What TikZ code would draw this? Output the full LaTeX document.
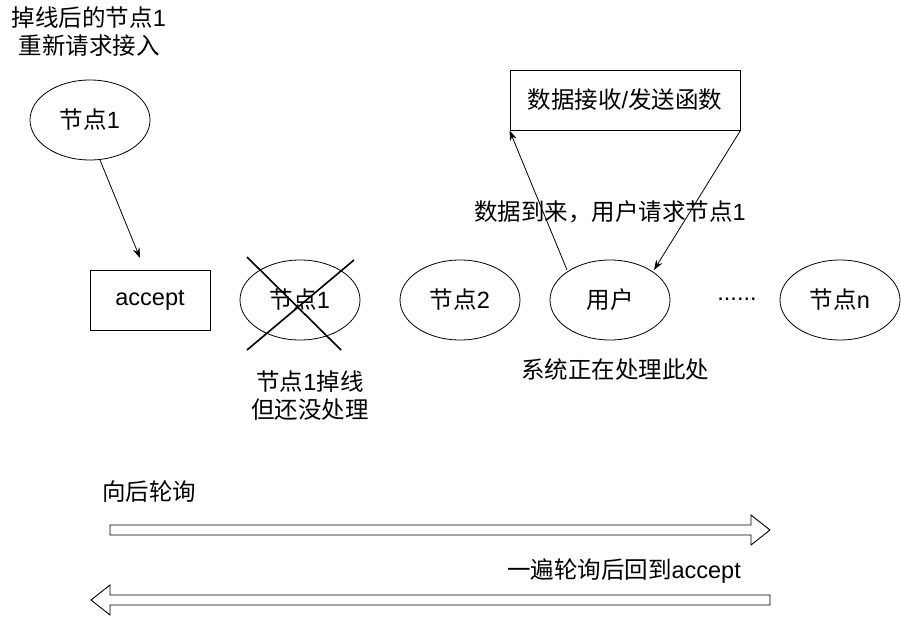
\documentclass[tikz,border=0pt]{standalone}
\usepackage{fontspec}
\setmainfont{Liberation Sans}
\newfontfamily\cjk{Noto Sans CJK SC}
\usetikzlibrary{shapes.geometric,arrows.meta}
\newcommand{\zh}[1]{{\cjk #1}}
\tikzset{
  ell/.style={draw, ellipse, line width=0.8pt, minimum width=120pt, minimum height=80pt, inner sep=0pt},
  boxnode/.style={draw, rectangle, line width=0.9pt, inner sep=0pt},
  lbl/.style={inner sep=0pt, align=center},
  conn/.style={line width=0.8pt, -{Stealth[length=10pt,width=7pt]}},
  crossline/.style={line width=1.6pt},
  bigarrow/.style={draw, line width=0.9pt, fill=white},
  every node/.style={font=\fontsize{23.5}{28}\selectfont}
}
\begin{document}
\begin{tikzpicture}[x=1pt,y=-1pt]
\useasboundingbox (0,0) rectangle (901,617);
\fill[white] (0,0) rectangle (901,617);

% top-left text and node
\node[lbl] (toptxt) at (89,32) {\zh{掉线后的节点}1\\\zh{重新请求接入}};
\node[ell] (n1top) at (90,120) {\zh{节点}1};

% row of nodes
\node[boxnode, minimum width=120pt, minimum height=60pt] (acc) at (150,300) {accept};
\node[ell] (n1) at (300,300) {\zh{节点}1};
\node[ell] (n2) at (460,300) {\zh{节点}2};
\node[ell] (user) at (610,300) {\zh{用户}};
\node[lbl] (dots) at (737,299) {......};
\node[ell] (nn) at (840,300) {\zh{节点}n};

% function box
\node[boxnode, minimum width=230pt, minimum height=60pt] (func) at (625,100) {\zh{数据接收}/\zh{发送函数}};

% connectors
\coordinate (a1s) at (100,160);
\coordinate (a1e) at (140,258);
\draw[conn] (a1s) -- (a1e);
\coordinate (u1) at (567,270);
\draw[conn] (u1) -- (func.south west);
\coordinate (u2) at (654,270);
\draw[conn] (func.south east) -- (u2);

% cross over node 1
\coordinate (c1) at (247,257);
\coordinate (c2) at (341,350);
\coordinate (c3) at (354,260);
\coordinate (c4) at (247,350);
\draw[crossline] (c1) -- (c2);
\draw[crossline] (c3) -- (c4);

% labels
\node[lbl] (datalbl) at (610,212) {\zh{数据到来，用户请求节点}1};
\node[lbl] (syslbl) at (615,370) {\zh{系统正在处理此处}};
\node[lbl] (droplbl) at (310,396) {\zh{节点}1\zh{掉线}\\\zh{但还没处理}};

% big arrows
\node[lbl, anchor=west] (fwdlbl) at (102,492) {\zh{向后轮询}};
\draw[bigarrow] (110,525) -- (751,525) -- (751,515) -- (770,530) -- (751,545) -- (751,535) -- (110,535) -- cycle;
\node[lbl, anchor=east] (backlbl) at (741,571) {\zh{一遍轮询后回到}accept};
\draw[bigarrow] (770,595) -- (110,595) -- (110,585) -- (91,600) -- (110,615) -- (110,605) -- (770,605) -- cycle;
\end{tikzpicture}
\end{document}
